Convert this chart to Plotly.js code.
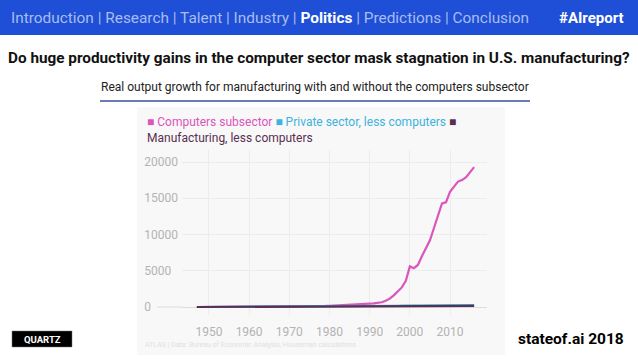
<!DOCTYPE html>
<html>
<head>
<meta charset="utf-8">
<script src="https://cdn.plot.ly/plotly-3.0.1.min.js"></script>
<style>html,body{margin:0;padding:0;background:#fff;}#chart{width:638px;height:359px;}</style>
</head>
<body>
<div id="chart"></div>
<script>
// ---- Data ----
const years = [1947,1948,1949,1950,1951,1952,1953,1954,1955,1956,
  1957,1958,1959,1960,1961,1962,1963,1964,1965,1966,
  1967,1968,1969,1970,1971,1972,1973,1974,1975,1976,
  1977,1978,1979,1980,1981,1982,1983,1984,1985,1986,
  1987,1988,1989,1990,1991,1992,1993,1994,1995,1996,
  1997,1998,1999,2000,2001,2002,2003,2004,2005,2006,
  2007,2008,2009,2010,2011,2012,2013,2014,2015,2016];
const computers = [2,3,4,5,6,7,8,9,10,12,
  13,15,17,19,21,24,27,31,36,42,
  48,52,56,58,60,68,80,86,84,95,
  110,125,145,165,185,200,225,270,300,330,
  360,390,420,460,500,560,660,850,1150,1600,
  2150,2700,3600,5600,5350,5800,7000,8200,9200,10900,
  12700,14300,14450,15900,16600,17300,17500,17900,18600,19300];
const privateLessComputers = [0,2,4,5,9,12,15,16,20,22,
  24,22,27,29,31,35,38,42,46,51,
  55,58,61,61,64,69,74,74,72,78,
  83,89,92,92,96,94,99,107,112,116,
  120,125,130,132,130,136,141,147,154,161,
  170,178,188,197,198,201,207,216,223,230,
  236,239,230,234,242,246,250,257,264,272];
const manufLessComputers = [0,2,4,3,9,12,15,14,20,21,
  22,17,24,24,23,29,33,37,42,47,
  47,52,55,50,52,58,65,62,54,61,
  68,74,77,70,72,67,72,83,85,88,
  93,98,102,98,93,97,102,108,113,119,
  124,130,135,134,132,134,138,140,142,140,
  142,146,129,131,140,146,148,150,152,150];
const seriesNames = ["Computers subsector", "Private sector, less computers", "Manufacturing, less computers"];
const seriesColors = ["#da55bc", "#3db3dd", "#5a2f52"];
const xTickVals = [1950,1960,1970,1980,1990,2000,2010];
const yTickVals = [0,5000,10000,15000,20000];
const yTickText = ["0\u2007\u2007\u2007\u2007","5000\u2007","10000","15000","20000"];
const navItemsBefore = "Introduction | Research | Talent | Industry | ";
const navCurrent = "Politics";
const navItemsAfter = " | Predictions | Conclusion";
const hashtag = "#AIreport";
const title = "Do huge productivity gains in the computer sector mask stagnation in U.S. manufacturing?";
const subtitle = "Real output growth for manufacturing with and without the computers subsector";
const sourceText = "ATLAS | Data: Bureau of Economic Analysis, Houseman calculations";
const brand = "QUARTZ";
const footer = "stateof.ai 2018";

// ---- Traces ----
const traces = [
  {x: years, y: computers, name: seriesNames[0]},
  {x: years, y: privateLessComputers, name: seriesNames[1]},
  {x: years, y: manufLessComputers, name: seriesNames[2]}
].map((t, i) => Object.assign(t, {
  type: "scatter", mode: "lines", showlegend: false, hoverinfo: "skip",
  line: {color: seriesColors[i], width: 2.2}
}));

const W = 638, H = 359;
const ML = 182, MR = 151, MT = 150, MB = 44;
const PW = W - ML - MR, PH = H - MT - MB;
function px(x) { return (x - ML) / PW; }
function py(y) { return (H - MB - y) / PH; }

const sans = "Roboto, sans-serif";
const legendHtml =
  '<span style="color:' + seriesColors[0] + '">■ ' + seriesNames[0] + '</span> ' +
  '<span style="color:' + seriesColors[1] + '">■ ' + seriesNames[1] + '</span> ' +
  '<span style="color:' + seriesColors[2] + '">■</span><br>' +
  '<span style="color:' + seriesColors[2] + '">' + seriesNames[2] + '</span>';

const layout = {
  width: W, height: H,
  margin: {l: ML, r: MR, t: MT, b: MB},
  paper_bgcolor: "#ffffff", plot_bgcolor: "rgba(0,0,0,0)",
  font: {family: sans},
  xaxis: {
    range: [1943.3, 2019.2], tickvals: xTickVals, showline: false, zeroline: false,
    showgrid: true, gridcolor: "#ececec", gridwidth: 1, ticks: "",
    tickfont: {size: 12, color: "#b3b3b3", family: sans},
    ticklabelstandoff: 8, fixedrange: true
  },
  yaxis: {
    range: [-1103, 21655], tickvals: yTickVals, ticktext: yTickText,
    showline: false, zeroline: true, zerolinecolor: "#dcdcdc", zerolinewidth: 1,
    showgrid: true, gridcolor: "#ececec", gridwidth: 1, ticks: "",
    tickfont: {size: 12, color: "#b3b3b3", family: sans},
    ticklabelstandoff: 3, fixedrange: true
  },
  shapes: [
    // banner
    {type: "rect", xref: "paper", yref: "paper", layer: "below",
     x0: px(0), x1: px(W), y0: py(35), y1: py(0),
     fillcolor: "#1f4fd6", line: {width: 0}},
    // chart panel
    {type: "rect", xref: "paper", yref: "paper", layer: "below",
     x0: px(137), x1: px(505), y0: py(355), y1: py(107),
     fillcolor: "#f8f8f8", line: {width: 0}},
    // subtitle underline
    {type: "line", xref: "paper", yref: "paper",
     x0: px(100), x1: px(530), y0: py(101), y1: py(101),
     line: {color: "#3b4f9e", width: 1.5}},
    // zero line extension toward the "0" label
    {type: "line", xref: "paper", yref: "y", layer: "below",
     x0: px(157), x1: 0, y0: 0, y1: 0,
     line: {color: "#dcdcdc", width: 1}},
    // brand box
    {type: "rect", xref: "paper", yref: "paper",
     x0: px(12), x1: px(72), y0: py(347), y1: py(331),
     fillcolor: "#000000", line: {color: "#777", width: 0.5}}
  ],
  annotations: []
};

function ann(text, x, y, opts) {
  layout.annotations.push(Object.assign({
    text: text, xref: "paper", yref: "paper", x: px(x), y: py(y),
    showarrow: false, xanchor: "left", yanchor: "middle", align: "left"
  }, opts));
}

ann('<span style="color:#a8bdf0">' + navItemsBefore + '</span><b>' + navCurrent + '</b><span style="color:#a8bdf0">' + navItemsAfter + '</span>',
    9, 18, {font: {family: sans, size: 15.4, color: "#ffffff"}});
ann('<b>' + hashtag + '</b>', 626, 18, {xanchor: "right", font: {family: sans, size: 15, color: "#ffffff"}});
ann('<b>' + title + '</b>', 319, 58, {xanchor: "center", font: {family: sans, size: 15.3, color: "#111111"}});
ann(subtitle, 315, 87, {xanchor: "center", font: {family: sans, size: 12, color: "#222222"}});
ann(legendHtml, 145, 130, {font: {family: sans, size: 12, color: "#555"}});
ann(sourceText, 143, 345, {font: {family: sans, size: 7, color: "#e0e0e0"}});
ann('<b>' + brand + '</b>', 42, 339, {xanchor: "center", font: {family: sans, size: 9.5, color: "#ffffff"}});
ann('<b>' + footer + '</b>', 626, 339, {xanchor: "right", font: {family: sans, size: 15.5, color: "#000000"}});

Plotly.newPlot("chart", traces, layout, {displayModeBar: false, staticPlot: true});
</script>
</body>
</html>
